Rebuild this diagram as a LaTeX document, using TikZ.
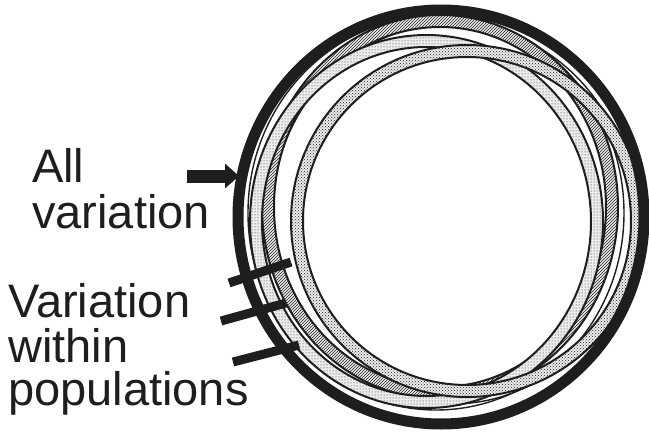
\documentclass[tikz,border=0pt]{standalone}
\usepackage{fontspec}
\setmainfont{Liberation Sans}
\usetikzlibrary{patterns,arrows.meta}
\definecolor{ink}{HTML}{1E1E1E}
\newcommand{\myband}[5]{%
  \fill[black!7,even odd rule]
    (#1,#2) ellipse [x radius={(#3+6)*1pt}, y radius={(#4+6)*1pt}]
    (#1,#2) ellipse [x radius={(#3-6)*1pt}, y radius={(#4-6)*1pt}];
  \fill[pattern=#5,pattern color=ink,even odd rule]
    (#1,#2) ellipse [x radius={(#3+6)*1pt}, y radius={(#4+6)*1pt}]
    (#1,#2) ellipse [x radius={(#3-6)*1pt}, y radius={(#4-6)*1pt}];
  \draw[ringline] (#1,#2) ellipse [x radius={(#3+6)*1pt}, y radius={(#4+6)*1pt}];
  \draw[ringline] (#1,#2) ellipse [x radius={(#3-6)*1pt}, y radius={(#4-6)*1pt}];
}
\begin{document}
\begin{tikzpicture}[x=1pt,y=-1pt,
  ringline/.style={draw=ink,line width=2pt},
  label/.style={font=\fontsize{47}{45}\selectfont,text=ink,inner sep=0pt,anchor=base west},
  bar/.style={draw=ink,line width=9pt},
  arrowbar/.style={draw=ink,line width=13pt,-{Triangle[length=14pt,width=24pt]}}]
\useasboundingbox[fill=white] (0,0) rectangle (649,434);

% inner rings
\draw[ink,line width=1.4pt] (436,213) ellipse [x radius=188pt, y radius=197pt];
\draw[ink,line width=1.4pt] (452,214) ellipse [x radius=180pt, y radius=190pt];
\myband{440}{207}{172}{186}{north east lines}
\myband{426.5}{221.5}{170.5}{180.5}{dots}
\myband{467}{221}{170}{170}{crosshatch dots}
% outer ring
\draw[ink,line width=11pt] (441,217) ellipse [x radius=203pt, y radius=207pt];

% labels
\node[label] (all) at (32,182) {All};
\node[label] (allvar) at (32,228) {variation};
\node[label] (var) at (8,317) {Variation};
\node[label] (within) at (8,362) {within};
\node[label] (pops) at (8,405) {populations};

% connectors
\coordinate (aTail) at (187,176);
\coordinate (aTip) at (239,176);
\draw[arrowbar] (aTail) -- (aTip);

\coordinate (b1s) at (229,283);
\coordinate (b1e) at (291,262);
\coordinate (b2s) at (221,321);
\coordinate (b2e) at (286,303);
\coordinate (b3s) at (233,362);
\coordinate (b3e) at (299,345);
\draw[bar] (b1s) -- (b1e);
\draw[bar] (b2s) -- (b2e);
\draw[bar] (b3s) -- (b3e);
\end{tikzpicture}
\end{document}
